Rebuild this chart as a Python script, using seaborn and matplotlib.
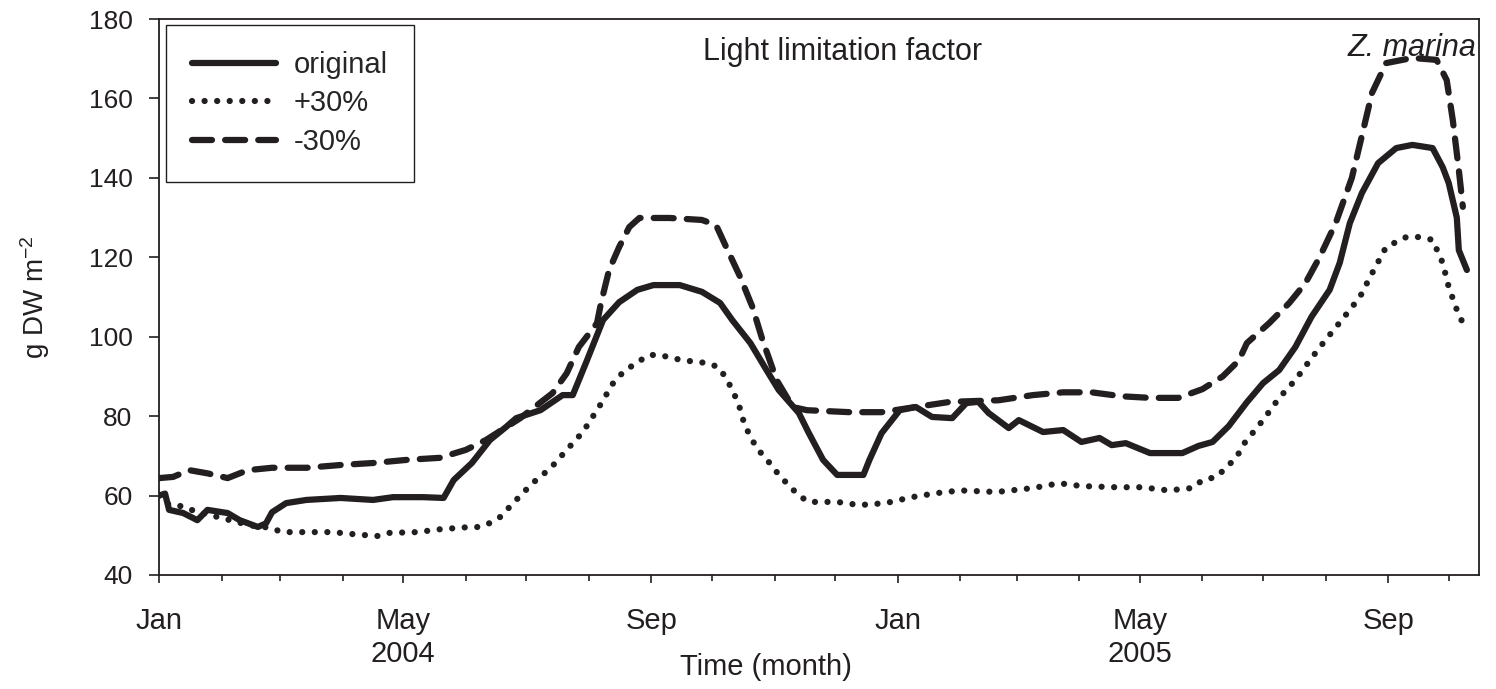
import pandas as pd
import matplotlib
matplotlib.use('Agg')
import matplotlib.pyplot as plt
import matplotlib.dates as mdates
from matplotlib.lines import Line2D
import seaborn as sns

# values: day since 1 Jan 2004 -> biomass (g DW m-2)
orig_day = [0, 3, 5, 12, 19, 24, 34, 40, 49, 53, 56, 63, 73, 90, 106, 116, 131, 141, 146, 155,
            164, 172, 177, 189, 200, 205, 212, 220, 228, 237, 245, 258, 269, 278, 284, 293, 301, 307, 317, 322,
            329, 336, 349, 352, 358, 367, 375, 383, 393, 400, 406, 411, 421, 426, 438, 448, 457, 466, 472, 479,
            491, 507, 515, 522, 530, 539, 547, 555, 563, 571, 580, 585, 590, 596, 604, 613, 621, 631, 636, 639,
            643, 644, 648]
orig_val = [60, 60.5, 56.4, 55.6, 53.8, 56.4, 55.6, 53.8, 52.1, 53, 55.8, 58.1, 58.9, 59.4, 58.9, 59.6, 59.6, 59.4, 63.9, 68.2,
            74, 77.3, 79.5, 81.5, 85.3, 85.3, 94, 104.2, 108.7, 111.8, 113, 113, 111.3, 108.5, 104.2, 98.4, 91.6, 86.6, 80.8, 75.7,
            69, 65.2, 65.2, 69, 75.7, 81.5, 82.3, 79.8, 79.5, 83.3, 83.6, 80.8, 77, 79, 76, 76.5, 73.5, 74.5, 72.7, 73.2,
            70.7, 70.7, 72.5, 73.5, 77.5, 83.5, 88.3, 91.6, 97.4, 105, 111.8, 118.6, 128.6, 136.2, 143.7, 147.5, 148.3, 147.5, 142.7, 138.7,
            130, 121.8, 116.8]

plus_day = [0, 5, 12, 18, 30, 45, 55, 61, 73, 86, 96, 108, 114, 128, 139, 152, 159, 164, 169, 177,
            185, 194, 202, 210, 218, 225, 230, 237, 243, 248, 259, 271, 277, 281, 284, 287, 289, 290, 293, 296,
            301, 304, 308, 313, 317, 322, 336, 347, 360, 373, 385, 397, 415, 433, 446, 457, 474, 487, 500, 512,
            517, 524, 529, 534, 537, 547, 555, 563, 571, 578, 586, 595, 600, 608, 618, 624, 631, 636, 639, 643,
            646]
plus_val = [60, 57.6, 57.3, 56, 54.5, 52.5, 51.9, 50.8, 50.8, 50.8, 50.3, 49.8, 50.6, 50.8, 51.5, 52, 52.1, 53.1, 54.6, 58.9,
            63.1, 66.9, 71.5, 76, 82.3, 88.3, 91.1, 93.6, 95.4, 95.4, 94.1, 93.4, 92.4, 89.6, 86.6, 83.3, 80, 77.8, 75, 72,
            69.2, 67.2, 64.7, 62.1, 60, 58.4, 58.4, 57.6, 58.1, 59.6, 60.6, 61.3, 60.9, 61.9, 63.1, 62.4, 62.1, 62.1, 61.3, 61.9,
            63.9, 64.7, 67.2, 69.7, 72.7, 79, 84.6, 89.1, 94.6, 99.2, 104.2, 110, 115, 122.6, 125.1, 125.1, 124.4, 118.6, 112.5, 106.8,
            103.4]

minus_day = [0, 7, 15, 24, 34, 44, 56, 73, 90, 106, 123, 139, 152, 162, 179, 195, 202, 208, 217, 219,
             223, 228, 233, 238, 253, 269, 276, 281, 288, 294, 299, 306, 314, 321, 342, 358, 375, 392, 416, 433,
             448, 462, 477, 491, 505, 517, 527, 535, 539, 550, 560, 568, 575, 583, 591, 597, 601, 608, 621, 633,
             638, 641, 644, 646]
minus_val = [64.4, 64.7, 66.4, 65.6, 64.4, 66.4, 67, 67, 67.7, 68.2, 69, 69.5, 71.5, 74, 79.5, 85.8, 90.8, 97.4, 103.4, 108.5,
             116.8, 122.6, 127.6, 129.9, 129.9, 129.4, 128.1, 122.6, 115, 107.5, 99.2, 89.1, 82.3, 81.5, 81, 81, 82.3, 83.6, 84, 85.3,
             86, 86, 85, 84.6, 84.6, 86.8, 90, 94, 98.4, 103.4, 108.5, 113.5, 120, 128.6, 140, 152.8, 161.4, 168.9, 170.2, 169.7,
             164.6, 154.6, 142, 132.7]

series_names = ['original', '+30%', '-30%']
major_ticks = ['2004-01-01', '2004-05-01', '2004-09-01', '2005-01-01', '2005-05-01', '2005-09-01']
major_labels = ['Jan', 'May\n2004', 'Sep', 'Jan', 'May\n2005', 'Sep']
y_ticks = [40, 60, 80, 100, 120, 140, 160, 180]

start = pd.Timestamp('2004-01-01')


def to_dates(days):
    return start + pd.to_timedelta(days, unit='D')


sns.set_style('ticks')
plt.rcParams['font.family'] = ['Liberation Sans', 'DejaVu Sans']
plt.rcParams['mathtext.default'] = 'regular'

ink = '#231f20'
lw = 4.5
styles = {
    'original': dict(linestyle='-', solid_capstyle='round', solid_joinstyle='round'),
    '+30%': dict(linestyle=(0, (0.01, 2.0)), dash_capstyle='round'),
    '-30%': dict(linestyle=(0, (3.2, 2.1)), dash_capstyle='round'),
}

fig = plt.figure(figsize=(14.96, 6.89), dpi=100)
ax = fig.add_axes([159 / 1496, 1 - 575 / 689, 1320 / 1496, 556 / 689])

for name, d, v in [('original', orig_day, orig_val), ('+30%', plus_day, plus_val), ('-30%', minus_day, minus_val)]:
    sns.lineplot(x=to_dates(d), y=v, ax=ax, color=ink, lw=lw, **styles[name])

# axes
ax.set_ylim(40, 180)
ax.set_yticks(y_ticks)
ax.set_xlim(start, pd.Timestamp('2005-10-16'))
ax.set_xticks(pd.to_datetime(major_ticks))
ax.set_xticklabels(major_labels, fontsize=21, linespacing=1.25)
ax.xaxis.set_minor_locator(mdates.MonthLocator())
ax.tick_params(axis='y', labelsize=19, length=7, width=1.2, pad=12, colors=ink)
ax.tick_params(axis='x', which='major', length=6, width=1.2, pad=17, colors=ink)
ax.tick_params(axis='x', which='minor', length=4.5, width=1.2, colors=ink)
for s in ax.spines.values():
    s.set_linewidth(1.3)
    s.set_color(ink)

ax.set_xlabel('Time (month)', fontsize=21, color=ink)
ax.xaxis.set_label_coords(0.46, -0.14)
ax.set_ylabel('g DW m$^{-2}$', fontsize=20, color=ink)
ax.yaxis.set_label_coords(-0.081, 0.5)

ax.text(0.518, 0.967, 'Light limitation factor', transform=ax.transAxes,
        ha='center', va='top', fontsize=22, color=ink)
ax.text(0.998, 0.975, 'Z. marina', transform=ax.transAxes, ha='right', va='top',
        fontsize=22, style='italic', color=ink)

handles = [Line2D([], [], color=ink, lw=lw, **styles[n]) for n in series_names]
leg = ax.legend(handles, series_names, loc='upper left', bbox_to_anchor=(0.005, 0.99),
                fontsize=21, frameon=True, fancybox=False, framealpha=1, edgecolor=ink,
                handlelength=2.9, handletextpad=0.6, labelspacing=0.36, borderpad=0.9,
                borderaxespad=0)
leg.get_frame().set_linewidth(1.0)

fig.savefig('out.png', dpi=100)
